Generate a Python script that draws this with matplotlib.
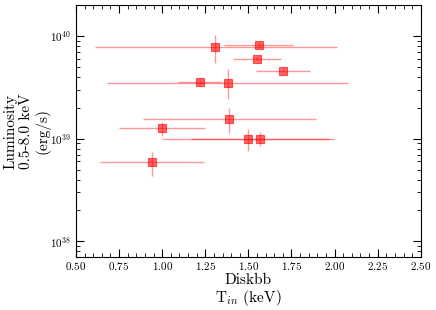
import matplotlib
matplotlib.use("Agg")
import matplotlib.pyplot as plt
from matplotlib.ticker import AutoMinorLocator
import numpy as np

plt.rcParams['font.family'] = 'serif'
plt.rcParams['font.serif'] = ['cmr10']
plt.rcParams['mathtext.fontset'] = 'cm'
plt.rcParams['axes.formatter.use_mathtext'] = True

# disk temperature (keV) with lower / upper bounds
tin = [1.308, 1.560, 1.548, 1.699, 1.219, 1.380, 1.389, 1.001, 1.500, 1.569, 0.939]
tin_lo = [0.610, 1.360, 1.411, 1.543, 1.090, 0.678, 0.890, 0.749, 1.001, 1.167, 0.639]
tin_hi = [2.013, 1.761, 1.689, 1.859, 1.347, 2.080, 1.891, 1.248, 1.968, 1.999, 1.243]

# luminosity 0.5-8 keV (erg/s) with lower / upper bounds
lum = [7.81e39, 8.22e39, 6.01e39, 4.59e39, 3.53e39, 3.48e39, 1.54e39, 1.26e39, 9.96e38, 9.96e38, 5.9e38]
lum_lo = [5.42e39, 7.9e39, 5.8e39, 4.45e39, 3.42e39, 2.41e39, 1.13e39, 1.06e39, 7.6e38, 8.45e38, 4.33e38]
lum_hi = [1.02e40, 8.5e39, 6.2e39, 4.75e39, 3.65e39, 4.73e39, 2.0e39, 1.46e39, 1.23e39, 1.16e39, 7.43e38]

tin = np.array(tin)
lum = np.array(lum)
xerr = [tin - np.array(tin_lo), np.array(tin_hi) - tin]
yerr = [lum - np.array(lum_lo), np.array(lum_hi) - lum]

fig = plt.figure(figsize=(4.36, 3.10), dpi=100)
ax = fig.add_axes([0.1743, 0.170, 0.7907, 0.814])

ax.errorbar(tin, lum, xerr=xerr, yerr=yerr, fmt='none', ecolor='red',
            elinewidth=1.0, alpha=0.4)
ax.plot(tin, lum, 's', color='red', markersize=5.5, alpha=0.6, markeredgewidth=0.8)

ax.set_yscale('log')
ax.set_xlim(0.5, 2.5)
ax.set_ylim(7e37, 2e40)
ax.set_xticks(np.arange(0.5, 2.51, 0.25))
ax.xaxis.set_minor_locator(AutoMinorLocator())

ax.tick_params(which='both', direction='in', top=True, right=True, labelsize=8)
ax.tick_params(which='major', length=6)
ax.tick_params(which='minor', length=3)
ax.tick_params(axis='x', which='major', pad=2)

ax.set_xlabel('Diskbb\nT$_{in}$ (keV)', fontsize=11, linespacing=1.05, labelpad=1)
ax.set_ylabel('Luminosity\n0.5-8.0 keV\n(erg/s)', fontsize=11, linespacing=1.1, labelpad=0)

fig.savefig('out.png', dpi=100)
